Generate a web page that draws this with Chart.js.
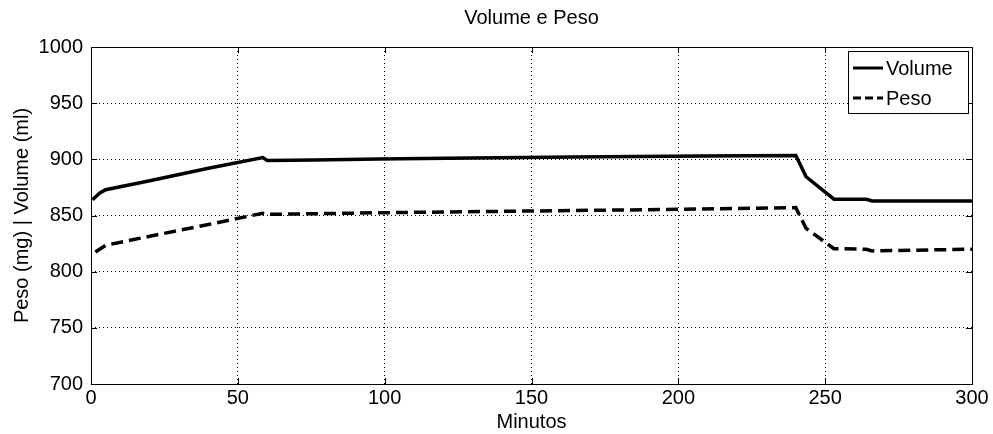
<!DOCTYPE html>
<html>
<head>
<meta charset="utf-8">
<script src="https://cdn.jsdelivr.net/npm/chart.js@4"></script>
<style>
  body { margin: 0; background: #fff; }
  #wrap { width: 993px; height: 434px; }
</style>
</head>
<body>
<div id="wrap"><canvas id="myChart" width="993" height="434"></canvas></div>
<script>
// minutes -> values
var volMin = [0.5, 3, 5, 20, 40, 58.5, 60, 76, 98, 121, 164, 208, 240, 243.5, 253, 264, 266, 300];
var volume = [864, 870, 873, 881, 892, 901.5, 899, 899.5, 900.2, 901, 902, 903, 903.5, 884.5, 864.5, 864.5, 863, 863];
var pesoMin = [1.5, 5, 20, 40, 58.5, 60, 100, 150, 200, 240, 243.5, 253, 264, 266, 300];
var peso = [817.5, 823.5, 831.5, 842, 852, 851, 852.5, 854, 855.5, 857, 838.5, 820.5, 820, 818.5, 820];
var xTicks = [0, 50, 100, 150, 200, 250, 300];
var yTicks = [700, 750, 800, 850, 900, 950, 1000];
var seriesNames = ['Volume', 'Peso'];

var ctx = document.getElementById('myChart').getContext('2d');
var font = 'Arial, "Liberation Sans", sans-serif';

function pts(xs, ys) {
    return xs.map(function (x, i) { return { x: x, y: ys[i] }; });
}

// box, inward ticks, title and legend like the original figure
var decor = {
    id: 'decor',
    afterDatasetsDraw: function (chart) {
        var c = chart.ctx, a = chart.chartArea;
        var xs = chart.scales.x, ys = chart.scales.y;
        c.save();
        c.strokeStyle = '#000';
        c.lineWidth = 1;
        c.strokeRect(Math.round(a.left) + 0.5, Math.round(a.top) + 0.5,
            Math.round(a.right - a.left), Math.round(a.bottom - a.top));
        c.beginPath();
        xTicks.forEach(function (v) {
            var px = Math.round(xs.getPixelForValue(v)) + 0.5;
            c.moveTo(px, a.bottom); c.lineTo(px, a.bottom - 6);
            c.moveTo(px, a.top); c.lineTo(px, a.top + 6);
        });
        yTicks.forEach(function (v) {
            var py = Math.round(ys.getPixelForValue(v)) + 0.5;
            c.moveTo(a.left, py); c.lineTo(a.left + 6, py);
            c.moveTo(a.right, py); c.lineTo(a.right - 6, py);
        });
        c.stroke();

        // legend
        var lx = 848, ly = 51, lw = 120, lh = 62;
        c.fillStyle = '#fff';
        c.fillRect(lx, ly, lw, lh);
        c.strokeRect(lx + 0.5, ly + 0.5, lw, lh);
        c.font = '20px ' + font;
        c.textBaseline = 'middle';
        chart.data.datasets.forEach(function (ds, i) {
            var yy = ly + 17 + i * 30;
            c.save();
            c.strokeStyle = ds.borderColor;
            c.lineWidth = 3;
            c.setLineDash(ds.borderDash ? [8, 4] : []);
            c.beginPath();
            c.moveTo(lx + 5, yy); c.lineTo(lx + 35, yy);
            c.stroke();
            c.restore();
            c.fillStyle = '#000';
            c.fillText(ds.label, lx + 38, yy + 1);
        });

        c.font = '20px ' + font;
        c.textAlign = 'center';
        c.textBaseline = 'middle';
        c.fillText('Volume e Peso', (a.left + a.right) / 2, 18);
        c.restore();
    }
};

var myChart = new Chart(ctx, {
    type: 'line',
    data: {
        datasets: [{
            label: seriesNames[0],
            data: pts(volMin, volume),
            borderColor: '#000',
            borderWidth: 3.5,
            pointRadius: 0,
            tension: 0,
            fill: false
        }, {
            label: seriesNames[1],
            data: pts(pesoMin, peso),
            borderColor: '#000',
            borderWidth: 3.5,
            borderDash: [12, 6],
            pointRadius: 0,
            tension: 0,
            fill: false
        }]
    },
    options: {
        responsive: false,
        animation: false,
        layout: { padding: { top: 47, right: 21, left: 0, bottom: 0 } },
        plugins: {
            legend: { display: false },
            title: { display: false },
            tooltip: { enabled: false }
        },
        scales: {
            x: {
                type: 'linear',
                min: 0, max: 300,
                afterBuildTicks: function (s) { s.ticks = xTicks.map(function (v) { return { value: v }; }); },
                afterFit: function (s) { s.height = 50; },
                grid: { color: '#000', lineWidth: 1, drawTicks: false },
                border: { display: false, dash: [1, 3] },
                ticks: { color: '#000', font: { family: font, size: 20 }, padding: 2, maxRotation: 0 },
                title: { display: true, text: 'Minutos', color: '#000', font: { family: font, size: 20 }, padding: { top: 0, bottom: 0 } }
            },
            y: {
                min: 700, max: 1000,
                afterBuildTicks: function (s) { s.ticks = yTicks.map(function (v) { return { value: v }; }); },
                afterFit: function (s) { s.width = 91; },
                grid: { color: '#000', lineWidth: 1, drawTicks: false },
                border: { display: false, dash: [1, 3] },
                ticks: {
                    color: '#000', font: { family: font, size: 20 }, padding: 8,
                    callback: function (v) { return String(v); }
                },
                title: { display: true, text: 'Peso (mg) | Volume (ml)', color: '#000', font: { family: font, size: 20 }, padding: { top: 10, bottom: 0 } }
            }
        }
    },
    plugins: [decor]
});
</script>
</body>
</html>
